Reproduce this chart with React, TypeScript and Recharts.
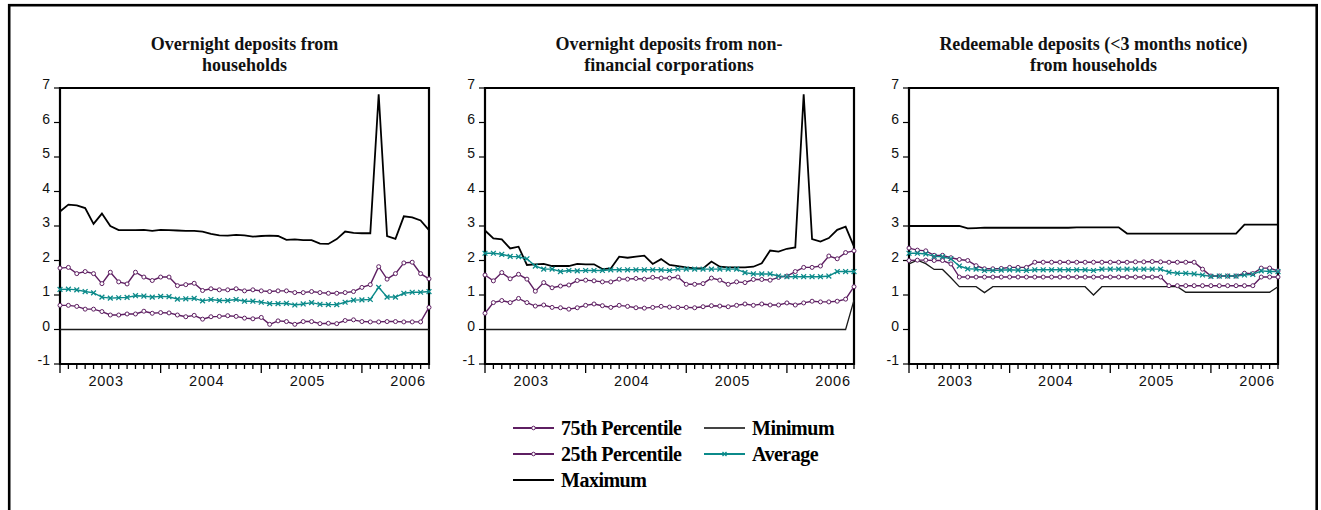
import React from "react";
import { LineChart, Line, XAxis, YAxis, ReferenceArea } from "recharts";

// ---------- data ----------
const YEARS = [2003, 2004, 2005, 2006];
// monthly observations Jan 2003 .. Sep 2006 (45 months), x = month index
const MONTH_COUNT = 45;
const Y_TICKS = [-1, 0, 1, 2, 3, 4, 5, 6, 7];

const SERIES_NAMES = ["75th Percentile", "25th Percentile", "Maximum", "Minimum", "Average"];

const P1_TITLE = ["Overnight deposits from", "households"];
const P1_P75 = [1.78,1.80,1.62,1.68,1.62,1.33,1.66,1.38,1.32,1.66,1.52,1.42,1.52,1.52,1.27,1.30,1.34,1.13,1.18,1.15,1.15,1.18,1.12,1.15,1.12,1.10,1.12,1.12,1.07,1.07,1.10,1.07,1.05,1.05,1.07,1.10,1.22,1.30,1.82,1.46,1.62,1.93,1.95,1.62,1.47];
const P1_P25 = [0.70,0.70,0.67,0.59,0.59,0.52,0.42,0.42,0.45,0.45,0.53,0.47,0.49,0.48,0.42,0.37,0.41,0.30,0.37,0.38,0.40,0.38,0.33,0.31,0.35,0.15,0.25,0.23,0.15,0.23,0.23,0.17,0.18,0.17,0.26,0.28,0.23,0.22,0.22,0.23,0.23,0.22,0.22,0.22,0.64];
const P1_MAX = [3.42,3.62,3.60,3.52,3.06,3.36,3.00,2.88,2.88,2.88,2.89,2.86,2.89,2.88,2.87,2.86,2.86,2.84,2.77,2.73,2.72,2.74,2.73,2.69,2.71,2.72,2.71,2.60,2.61,2.59,2.59,2.49,2.48,2.62,2.84,2.80,2.79,2.79,6.82,2.71,2.63,3.28,3.25,3.16,2.88];
const P1_MIN = [0,0,0,0,0,0,0,0,0,0,0,0,0,0,0,0,0,0,0,0,0,0,0,0,0,0,0,0,0,0,0,0,0,0,0,0,0,0,0,0,0,0,0,0,0];
const P1_AVG = [1.16,1.17,1.15,1.10,1.06,0.94,0.91,0.92,0.93,0.98,0.97,0.94,0.96,0.95,0.88,0.89,0.90,0.83,0.87,0.84,0.84,0.87,0.82,0.82,0.79,0.75,0.75,0.76,0.71,0.74,0.78,0.73,0.72,0.72,0.79,0.85,0.86,0.87,1.22,0.94,0.94,1.05,1.08,1.08,1.10];

const P2_TITLE = ["Overnight deposits from non-", "financial corporations"];
const P2_P75 = [1.58,1.41,1.65,1.47,1.60,1.46,1.11,1.36,1.21,1.26,1.29,1.42,1.43,1.41,1.38,1.38,1.46,1.46,1.48,1.46,1.51,1.49,1.49,1.52,1.31,1.31,1.33,1.49,1.43,1.31,1.38,1.36,1.45,1.45,1.43,1.51,1.55,1.68,1.80,1.80,1.84,2.13,2.05,2.23,2.28];
const P2_P25 = [0.47,0.78,0.84,0.78,0.90,0.78,0.68,0.71,0.64,0.63,0.59,0.63,0.70,0.74,0.69,0.64,0.70,0.67,0.63,0.62,0.64,0.67,0.65,0.64,0.64,0.63,0.66,0.69,0.68,0.66,0.70,0.74,0.70,0.74,0.71,0.71,0.77,0.71,0.77,0.82,0.80,0.80,0.82,0.88,1.24];
const P2_MAX = [2.87,2.64,2.61,2.35,2.40,1.87,1.89,1.90,1.84,1.84,1.84,1.90,1.89,1.89,1.75,1.77,2.11,2.08,2.11,2.14,1.90,2.04,1.87,1.84,1.80,1.77,1.77,1.97,1.82,1.80,1.80,1.80,1.82,1.92,2.29,2.26,2.34,2.38,6.82,2.62,2.55,2.65,2.89,2.98,2.40];
const P2_MIN = [0,0,0,0,0,0,0,0,0,0,0,0,0,0,0,0,0,0,0,0,0,0,0,0,0,0,0,0,0,0,0,0,0,0,0,0,0,0,0,0,0,0,0,0,0.85];
const P2_AVG = [2.21,2.21,2.18,2.12,2.11,2.05,1.84,1.75,1.75,1.68,1.71,1.70,1.71,1.71,1.71,1.73,1.73,1.73,1.73,1.73,1.73,1.73,1.71,1.75,1.75,1.75,1.75,1.75,1.75,1.75,1.75,1.65,1.61,1.61,1.61,1.55,1.53,1.53,1.53,1.53,1.53,1.55,1.68,1.68,1.68];

const P3_TITLE = ["Redeemable deposits (<3 months notice)", "from households"];
const P3_P75 = [2.36,2.30,2.28,2.15,2.15,2.08,2.03,2.00,1.85,1.76,1.76,1.77,1.80,1.80,1.80,1.95,1.95,1.95,1.95,1.95,1.95,1.95,1.95,1.95,1.95,1.95,1.95,1.96,1.96,1.97,1.96,1.95,1.95,1.95,1.95,1.75,1.55,1.55,1.55,1.55,1.63,1.62,1.78,1.78,1.70];
const P3_P25 = [2.00,2.01,2.01,2.00,2.00,1.90,1.52,1.52,1.52,1.52,1.52,1.52,1.52,1.52,1.52,1.52,1.52,1.52,1.52,1.52,1.52,1.52,1.52,1.52,1.52,1.52,1.52,1.52,1.52,1.52,1.52,1.27,1.27,1.27,1.27,1.27,1.27,1.27,1.27,1.27,1.27,1.27,1.52,1.52,1.52];
const P3_MAX = [3.00,3.00,3.00,3.00,3.00,3.00,3.00,2.93,2.94,2.95,2.95,2.95,2.95,2.95,2.95,2.95,2.95,2.95,2.95,2.95,2.96,2.96,2.96,2.96,2.96,2.96,2.78,2.78,2.78,2.78,2.78,2.78,2.78,2.78,2.78,2.78,2.78,2.78,2.78,2.78,3.04,3.04,3.04,3.04,3.04];
const P3_MIN = [1.90,2.01,1.91,1.74,1.74,1.50,1.24,1.24,1.24,1.07,1.24,1.24,1.24,1.24,1.24,1.24,1.24,1.24,1.24,1.24,1.24,1.24,1.00,1.24,1.24,1.24,1.24,1.24,1.24,1.24,1.24,1.24,1.24,1.08,1.08,1.08,1.08,1.08,1.08,1.08,1.08,1.08,1.08,1.08,1.24];
const P3_AVG = [2.21,2.21,2.19,2.12,2.11,2.05,1.84,1.76,1.75,1.71,1.71,1.72,1.73,1.72,1.71,1.73,1.73,1.73,1.73,1.73,1.73,1.73,1.71,1.75,1.75,1.75,1.75,1.75,1.75,1.75,1.75,1.66,1.63,1.63,1.61,1.58,1.54,1.55,1.55,1.55,1.58,1.60,1.70,1.68,1.68];

// ---------- styling ----------
const PURPLE = "#5E1F62";
const TEAL = "#0B8A8A";
const SERIF = "'Liberation Serif', 'Times New Roman', serif";
const SANS = "'Liberation Sans', Arial, sans-serif";

const PLOT_W = 369;
const PLOT_H = 276;
const Y_AXIS_W = 60;
const X_AXIS_H = 35;
const MARGIN = { top: 15, right: 10, bottom: 0, left: 0 };
const CHART_TOP = 73;

function buildRows(p75: number[], p25: number[], mx: number[], mn: number[], avg: number[]) {
  const rows = [];
  for (let i = 0; i < MONTH_COUNT; i++) {
    rows.push({ i, p75: p75[i], p25: p25[i], max: mx[i], min: mn[i], avg: avg[i] });
  }
  return rows;
}

const PANELS = [
  { plotLeft: 60, title: P1_TITLE, rows: buildRows(P1_P75, P1_P25, P1_MAX, P1_MIN, P1_AVG) },
  { plotLeft: 484.5, title: P2_TITLE, rows: buildRows(P2_P75, P2_P25, P2_MAX, P2_MIN, P2_AVG) },
  { plotLeft: 909, title: P3_TITLE, rows: buildRows(P3_P75, P3_P25, P3_MAX, P3_MIN, P3_AVG) },
];

// month ticks plus mid-year label positions
const X_TICKS: number[] = [];
for (let i = 0; i < MONTH_COUNT; i++) X_TICKS.push(i);
YEARS.forEach((_, k) => X_TICKS.push(k * 12 + 5.5));

const XTick = (props: any) => {
  const { x, y, payload } = props;
  const v = payload.value;
  if (Number.isInteger(v)) {
    const len = v % 12 === 0 ? 9 : 5;
    return <line x1={x} y1={y + 1} x2={x} y2={y + len} stroke="#000" strokeWidth={1.3} />;
  }
  return (
    <text x={x} y={y + 22} textAnchor="middle" fontFamily={SANS} fontSize={14.5} letterSpacing={0.8} fill="#111">
      {YEARS[Math.floor(v / 12)]}
    </text>
  );
};

const YTick = (props: any) => {
  const { x, y, payload } = props;
  return (
    <text x={x} y={y + 1} textAnchor="end" fontFamily={SANS} fontSize={14} fill="#111">
      {payload.value}
    </text>
  );
};

const XDot = (props: any) => {
  const { cx, cy, index } = props;
  if (cx == null || cy == null) return <g key={`x${index}`} />;
  const s = 2.4;
  return (
    <path
      key={`x${index}`}
      d={`M${cx - s},${cy - s}L${cx + s},${cy + s}M${cx - s},${cy + s}L${cx + s},${cy - s}`}
      stroke={TEAL}
      strokeWidth={1.3}
      fill="none"
    />
  );
};

const circleDot = { r: 2, fill: "#fff", stroke: PURPLE, strokeWidth: 1 };

function Panel({ plotLeft, rows }: { plotLeft: number; rows: any[] }) {
  const width = Y_AXIS_W + PLOT_W + MARGIN.right;
  const height = MARGIN.top + PLOT_H + X_AXIS_H;
  return (
    <div style={{ position: "absolute", left: plotLeft - Y_AXIS_W, top: CHART_TOP }}>
      <LineChart width={width} height={height} data={rows} margin={MARGIN}>
        <XAxis
          dataKey="i"
          type="number"
          domain={[0, MONTH_COUNT - 1]}
          ticks={X_TICKS}
          interval={0}
          tick={XTick}
          tickLine={false}
          tickSize={0}
          tickMargin={0}
          axisLine={false}
          height={X_AXIS_H}
        />
        <YAxis
          type="number"
          domain={[-1, 7]}
          ticks={Y_TICKS}
          interval={0}
          tick={YTick}
          tickLine={{ stroke: "#000", strokeWidth: 1.2 }}
          tickSize={6}
          tickMargin={4}
          axisLine={false}
          width={Y_AXIS_W}
        />
        <ReferenceArea x1={0} x2={MONTH_COUNT - 1} y1={-1} y2={7} fill="none" stroke="#000" strokeWidth={2.2} />
        <Line name={SERIES_NAMES[0]} dataKey="p75" type="linear" stroke={PURPLE} strokeWidth={1.4} dot={circleDot} activeDot={false} isAnimationActive={false} />
        <Line name={SERIES_NAMES[1]} dataKey="p25" type="linear" stroke={PURPLE} strokeWidth={1.4} dot={circleDot} activeDot={false} isAnimationActive={false} />
        <Line name={SERIES_NAMES[2]} dataKey="max" type="linear" stroke="#000" strokeWidth={1.8} dot={false} activeDot={false} isAnimationActive={false} />
        <Line name={SERIES_NAMES[3]} dataKey="min" type="linear" stroke="#1a1a1a" strokeWidth={1.3} dot={false} activeDot={false} isAnimationActive={false} />
        <Line name={SERIES_NAMES[4]} dataKey="avg" type="linear" stroke={TEAL} strokeWidth={1.4} dot={XDot} activeDot={false} isAnimationActive={false} />
      </LineChart>
    </div>
  );
}

function Legend() {
  const item = (x: number, y: number, label: string, kind: string) => (
    <g key={label}>
      <line x1={x} y1={y} x2={x + 41} y2={y} stroke={kind === "pct" ? PURPLE : kind === "avg" ? TEAL : kind === "min" ? "#444" : "#000"} strokeWidth={kind === "max" ? 2.2 : 1.8} />
      {kind === "pct" && <circle cx={x + 20.5} cy={y} r={1.8} fill="#fff" stroke={PURPLE} strokeWidth={1} />}
      {kind === "avg" && (
        <path d={`M${x + 18.5},${y - 2}L${x + 22.5},${y + 2}M${x + 18.5},${y + 2}L${x + 22.5},${y - 2}`} stroke={TEAL} strokeWidth={1.3} />
      )}
      <text x={x + 48} y={y + 7} fontFamily={SERIF} fontWeight="bold" fontSize={20} letterSpacing={-0.5} fill="#000">
        {label}
      </text>
    </g>
  );
  return (
    <g>
      {item(513, 428, SERIES_NAMES[0], "pct")}
      {item(513, 454, SERIES_NAMES[1], "pct")}
      {item(513, 480, SERIES_NAMES[2], "max")}
      {item(704, 428, SERIES_NAMES[3], "min")}
      {item(704, 454, SERIES_NAMES[4], "avg")}
    </g>
  );
}

export default function App() {
  return (
    <div style={{ position: "absolute", left: 0, top: 0, width: 1321, height: 510, overflow: "hidden", background: "#fff" }}>
      <svg width={1321} height={510} style={{ position: "absolute", left: 0, top: 0 }}>
        <rect x={9.2} y={5.2} width={1307.5} height={600} fill="none" stroke="#000" strokeWidth={2.6} />
        {PANELS.map((p, k) => (
          <text key={k} x={p.plotLeft + PLOT_W / 2} textAnchor="middle" fontFamily={SERIF} fontWeight="bold" fontSize={18} fill="#111">
            <tspan x={p.plotLeft + PLOT_W / 2} y={50}>{p.title[0]}</tspan>
            <tspan x={p.plotLeft + PLOT_W / 2} y={71}>{p.title[1]}</tspan>
          </text>
        ))}
        <Legend />
      </svg>
      {PANELS.map((p, k) => (
        <Panel key={k} plotLeft={p.plotLeft} rows={p.rows} />
      ))}
    </div>
  );
}
